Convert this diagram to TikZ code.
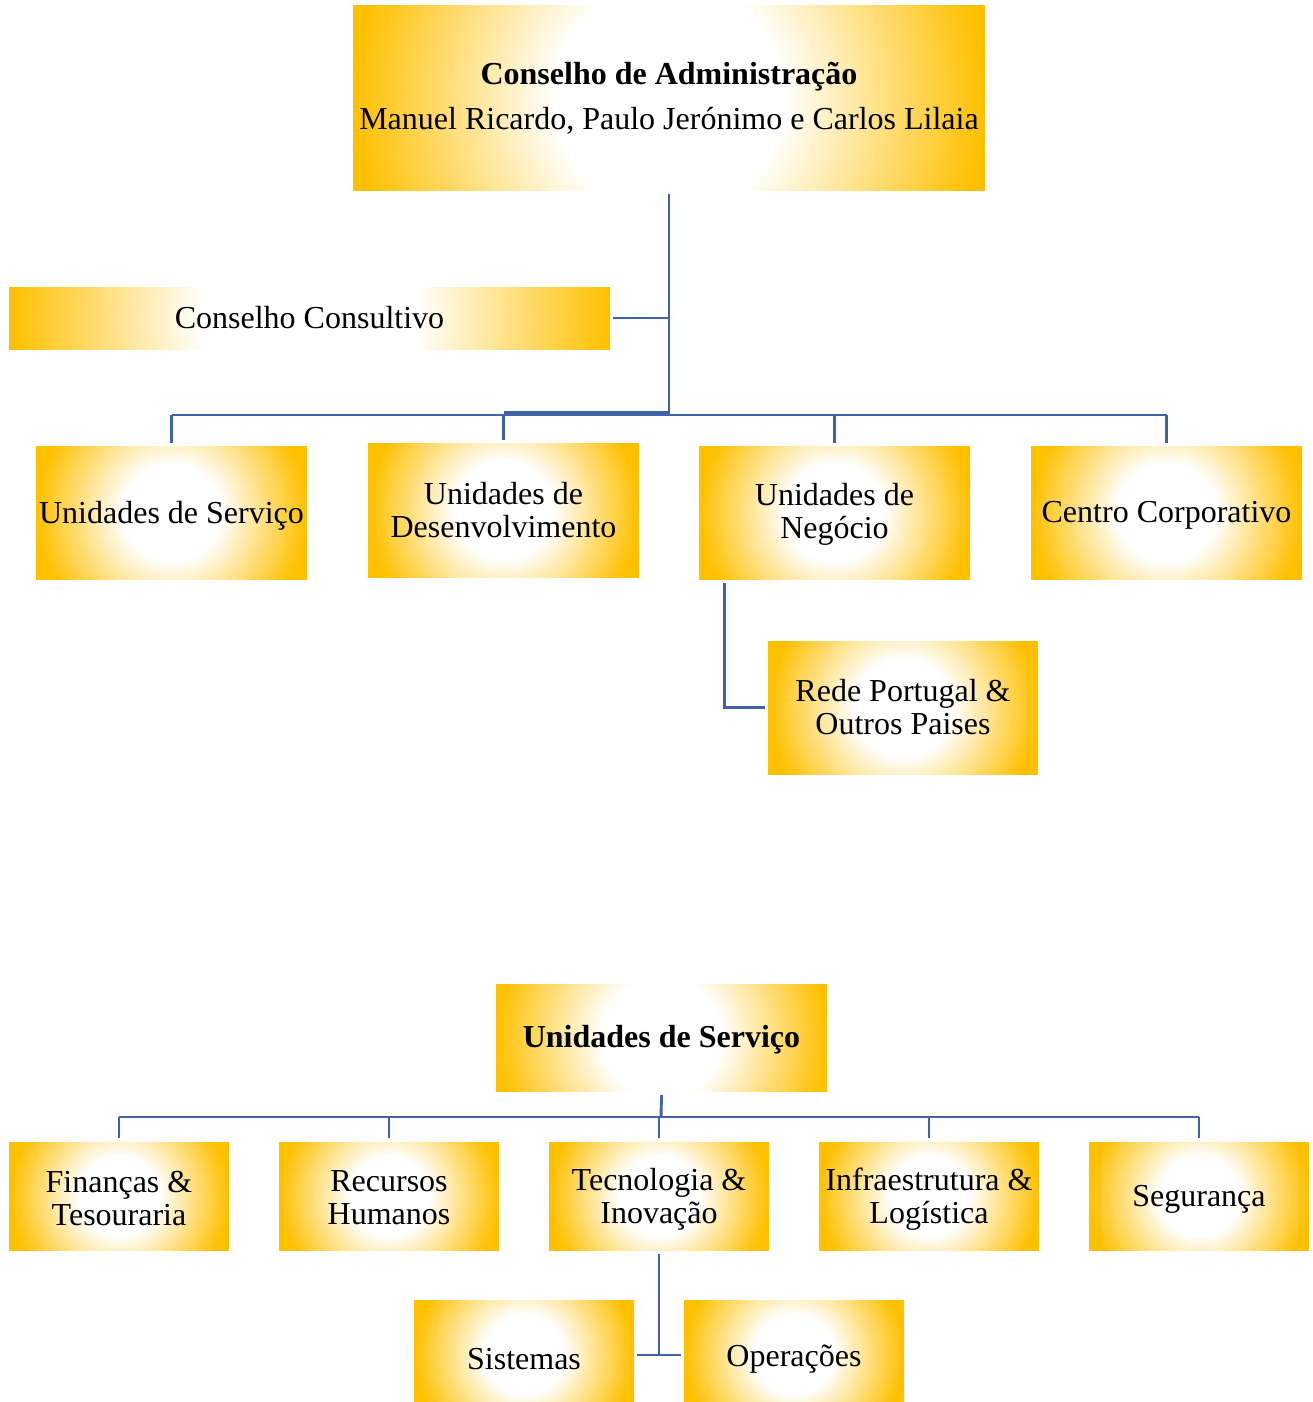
\documentclass[tikz,border=0pt]{standalone}
\usepackage{fontspec}
\setmainfont{Liberation Serif}
\usetikzlibrary{calc}
\definecolor{ygold}{RGB}{255,192,0}
\definecolor{lineblue}{RGB}{64,98,170}
\pgfdeclareradialshading{goldrad}{\pgfpoint{0bp}{0bp}}{color(0bp)=(white); color(9bp)=(white); color(25bp)=(ygold); color(50bp)=(ygold)}
\newcommand{\boxfont}{\fontsize{32}{33}\selectfont}
\tikzset{
  gbox/.style 2 args={draw=none, inner sep=0pt, minimum width=#1pt, minimum height=#2pt,
    align=center, font=\boxfont,
    path picture={\shade[shading=goldrad] ($(path picture bounding box.center)+(-#1/2,-#1/2)$) rectangle ++(#1,#1);}},
  txt/.style={font=\boxfont, align=center, inner sep=0pt},
  conn/.style={draw=lineblue, line width=2.9pt}
}
\begin{document}
\begin{tikzpicture}[x=1pt,y=-1pt]
\useasboundingbox (0,0) rectangle (1312,1402);
% top part
\node[gbox={632}{185}] (adm) at (669,98) {\textbf{Conselho de Administração}\\[12pt]Manuel Ricardo, Paulo Jerónimo e Carlos Lilaia};
\node[gbox={601}{62}] (cons) at (309.5,318) {Conselho Consultivo};
\node[gbox={271}{133}, label={[txt,yshift=-3pt]center:Unidades de Serviço}] (us) at (171.5,512.5) {};
\node[gbox={271}{134}] (ud) at (503.5,510) {Unidades de\\Desenvolvimento};
\node[gbox={271}{133}, label={[txt,yshift=-2pt]center:Unidades de\\Negócio}] (un) at (834.5,512.5) {};
\node[gbox={271}{133}, label={[txt,yshift=-3pt]center:Centro Corporativo}] (cc) at (1166.5,512.5) {};
\node[gbox={270}{133}] (rede) at (903,707.5) {Rede Portugal \&\\Outros Paises};
\coordinate (bus) at (669,415);
\draw[conn] ([yshift=-3pt]adm.south) -- (bus);
\draw[conn] ([xshift=3pt]cons.east) -- (cons.east -| bus);
\draw[conn] (bus -| us.north) -- (bus -| cc.north);
\draw[conn] ($(bus)+(0,-2.5)$) -- ($(bus -| ud.north)+(0,-2.5)$);
\foreach \n in {us,ud,un,cc}{
  \draw[conn] (bus -| \n.north) -- ([yshift=3pt]\n.north);
}
\draw[conn] ($(un.south west)+(26,4)$) |- ([xshift=-3pt]rede.west);
% bottom part
\node[gbox={331}{107}, label={[txt,yshift=-2pt]center:\textbf{Unidades de Serviço}}] (us2) at (661.5,1037.5) {};
\node[gbox={220}{108}, label={[txt,yshift=-2pt]center:Finanças \&\\Tesouraria}] (fin) at (119,1196) {};
\node[gbox={220}{108}, label={[txt,yshift=-2pt]center:Recursos\\Humanos}] (rh) at (389,1196) {};
\node[gbox={220}{108}, label={[txt,yshift=-3pt]center:Tecnologia \&\\Inovação}] (tec) at (659,1196) {};
\node[gbox={220}{108}, label={[txt,yshift=-3pt]center:Infraestrutura \&\\Logística}] (inf) at (929,1196) {};
\node[gbox={220}{108}, label={[txt,yshift=-3pt]center:Segurança}] (seg) at (1199,1196) {};
\node[gbox={220}{108}, label={[txt,yshift=-5pt]center:Sistemas}] (sis) at (524,1354) {};
\node[gbox={220}{108}, label={[txt,yshift=-5pt]center:Operações}] (ope) at (794,1354) {};
\coordinate (bus2) at (661,1117);
\draw[conn] ([yshift=-4pt]us2.south) -- (bus2);
\draw[conn] (bus2 -| fin.north) -- (bus2 -| seg.north);
\foreach \n in {fin,rh,tec,inf,seg}{
  \draw[conn] (bus2 -| \n.north) -- ([yshift=4pt]\n.north);
}
\coordinate (jn) at (659,1355);
\draw[conn] ([yshift=-4pt]tec.south) -- (jn);
\draw[conn] ([xshift=3pt]sis.east |- jn) -- ([xshift=-3pt]ope.west |- jn);
\end{tikzpicture}
\end{document}
